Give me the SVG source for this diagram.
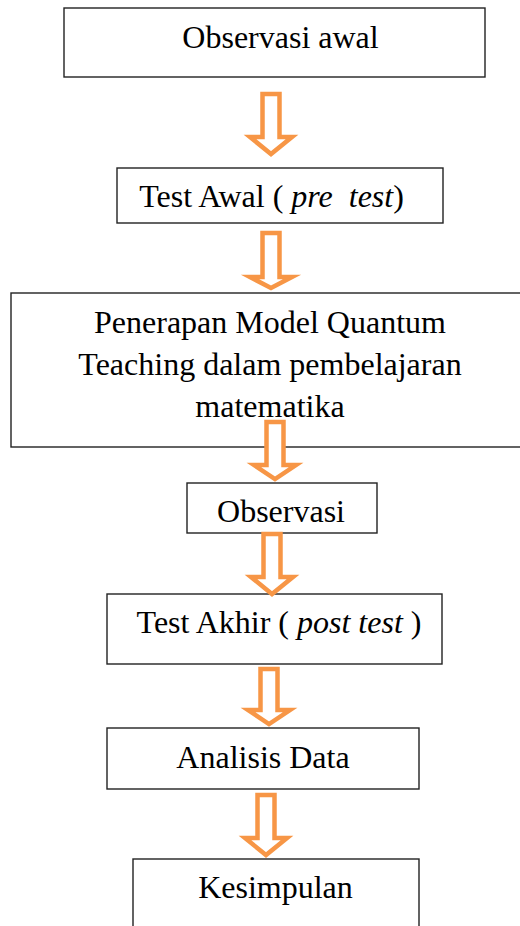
<svg xmlns="http://www.w3.org/2000/svg" width="520" height="926" viewBox="0 0 520 926">
  <style>
    .box { fill: #fff; stroke: #222; stroke-width: 1.4; }
    .lbl { font-family: "Liberation Serif", "Times New Roman", serif; font-size: 32px; fill: #000; text-anchor: middle; }
    .it { font-style: italic; }
    .arrow { fill: #fff; stroke: #F79646; stroke-width: 4.5; stroke-linejoin: miter; stroke-miterlimit: 10; }
  </style>
  <rect width="520" height="926" fill="#fff"/>

  <g id="observasi-awal">
    <rect class="box" x="64" y="8" width="421" height="69"/>
    <text class="lbl" x="280.5" y="48">Observasi awal</text>
  </g>

  <g id="test-awal">
    <rect class="box" x="117" y="168" width="326" height="55"/>
    <text class="lbl" x="271.5" y="207" xml:space="preserve">Test Awal ( <tspan class="it">pre  test</tspan>)</text>
  </g>

  <g id="penerapan">
    <rect class="box" x="11" y="293" width="530" height="154"/>
    <text class="lbl" x="270" y="333">Penerapan Model Quantum</text>
    <text class="lbl" x="270" y="375">Teaching dalam pembelajaran</text>
    <text class="lbl" x="270" y="417">matematika</text>
  </g>

  <g id="observasi">
    <rect class="box" x="187" y="483" width="190" height="50"/>
    <text class="lbl" x="281" y="522">Observasi</text>
  </g>

  <g id="test-akhir">
    <rect class="box" x="107" y="594" width="335" height="70"/>
    <text class="lbl" x="279" y="633" xml:space="preserve">Test Akhir ( <tspan class="it">post test</tspan> )</text>
  </g>

  <g id="analisis-data">
    <rect class="box" x="107" y="728" width="312" height="61"/>
    <text class="lbl" x="263" y="768">Analisis Data</text>
  </g>

  <g id="kesimpulan">
    <rect class="box" x="133" y="859" width="286" height="90"/>
    <text class="lbl" x="275.5" y="898">Kesimpulan</text>
  </g>

  <!-- hollow block arrows between steps -->
  <g id="connectors">
    <polygon class="arrow" points="262.5,94 279.5,94 279.5,137 292,137 271,154 250,137 262.5,137"/>
    <polygon class="arrow" points="262.5,233 279.5,233 279.5,277 292,277 271,288 250,277 262.5,277"/>
    <polygon class="arrow" points="266.5,422 283.5,422 283.5,465 296,465 275,479 254,465 266.5,465"/>
    <polygon class="arrow" points="263.5,534 280.5,534 280.5,577 293,577 272,594 251,577 263.5,577"/>
    <polygon class="arrow" points="260.5,669 277.5,669 277.5,710 290,710 269,724 248,710 260.5,710"/>
    <polygon class="arrow" points="257.5,795 274.5,795 274.5,838 287,838 266,855 245,838 257.5,838"/>
  </g>
</svg>
